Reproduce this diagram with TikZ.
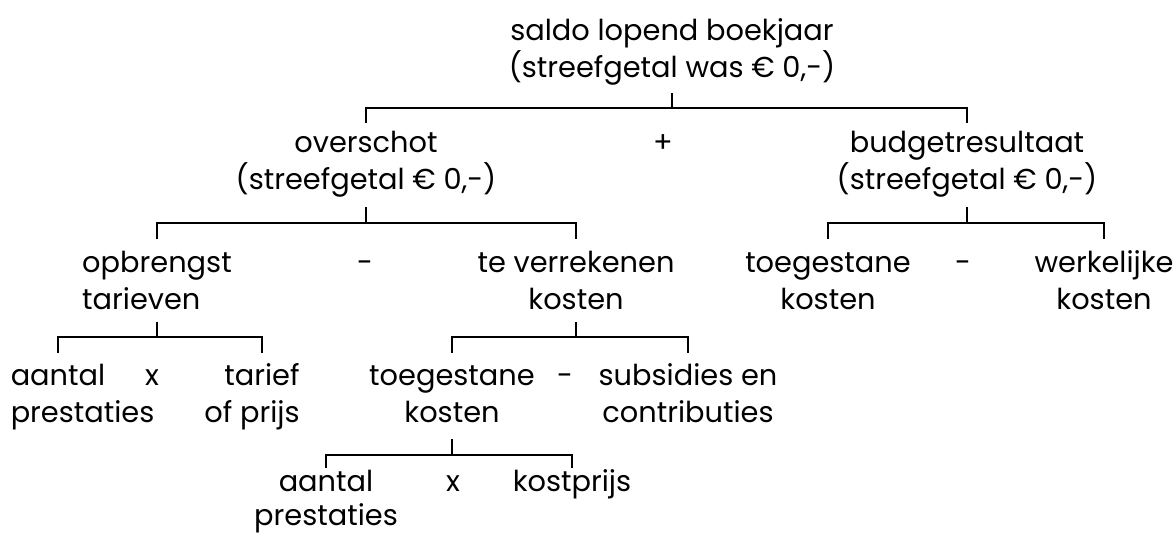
\documentclass[tikz,border=0pt]{standalone}
\usepackage{fontspec}
\setmainfont{Poppins}
\tikzset{
  lbl/.style={inner sep=0pt, text height=0.69cm, text depth=0.24cm, font=\fontsize{20.5}{25}\selectfont},
  tak/.style={line width=1.5pt, line join=miter}
}
\begin{document}
\begin{tikzpicture}[x=0.025cm, y=-0.025cm]
\useasboundingbox (0,0) rectangle (1174,540);
\node[lbl] (saldo) at (672,31) {saldo lopend boekjaar};
\node[lbl, anchor=north] (saldoB) at (saldo.south) {(streefgetal was € 0,-)};
\node[lbl] (overschot) at (366,143) {overschot};
\node[lbl, anchor=north] (overschotB) at (overschot.south) {(streefgetal € 0,-)};
\node[lbl] (plus) at (663,143) {+};
\node[lbl] (budget) at (967,143) {budgetresultaat};
\node[lbl, anchor=north] (budgetB) at (budget.south) {(streefgetal € 0,-)};
\node[lbl] (opbr) at (157,263) {opbrengst};
\node[lbl, anchor=north west] (opbrB) at (opbr.south west) {tarieven};
\node[lbl] (minA) at (365,263) {-};
\node[lbl] (tever) at (576,263) {te verrekenen};
\node[lbl, anchor=north] (teverB) at (tever.south) {kosten};
\node[lbl] (toegA) at (828,263) {toegestane};
\node[lbl, anchor=north] (toegAB) at (toegA.south) {kosten};
\node[lbl] (minB) at (963,263) {-};
\node[lbl] (werk) at (1104,263) {werkelijke};
\node[lbl, anchor=north] (werkB) at (werk.south) {kosten};
\node[lbl] (aantA) at (58,376) {aantal};
\node[lbl, anchor=north west] (aantAB) at (aantA.south west) {prestaties};
\node[lbl] (keerA) at (152,376) {x};
\node[lbl] (tarief) at (262,376) {tarief};
\node[lbl, anchor=north east] (tariefB) at (tarief.south east) {of prijs};
\node[lbl] (toegB) at (452,376) {toegestane};
\node[lbl, anchor=north] (toegBB) at (toegB.south) {kosten};
\node[lbl] (minC) at (565,376) {-};
\node[lbl] (subs) at (688,376) {subsidies en};
\node[lbl, anchor=north] (subsB) at (subs.south) {contributies};
\node[lbl] (aantB) at (326,482) {aantal};
\node[lbl, anchor=north, text depth=0.1cm] (aantBB) at ([yshift=2pt]aantB.south) {prestaties};
\node[lbl] (keerB) at (453,482) {x};
\node[lbl] (kostp) at (572,482) {kostprijs};
\foreach \p/\l/\r/\a/\b/\c in {saldo/overschot/budget/93/108/123,
  overschot/opbr/tever/207/223/239, budget/toegA/werk/207/223/239,
  opbr/aantA/tarief/322/337/353, tever/toegB/subs/322/337/353,
  toegB/aantB/kostp/439/455/468}
\draw[tak] (\p |- 0,\a) -- (\p |- 0,\b) (\l |- 0,\c) |- (\r |- 0,\b) -- (\r |- 0,\c);
\end{tikzpicture}
\end{document}
